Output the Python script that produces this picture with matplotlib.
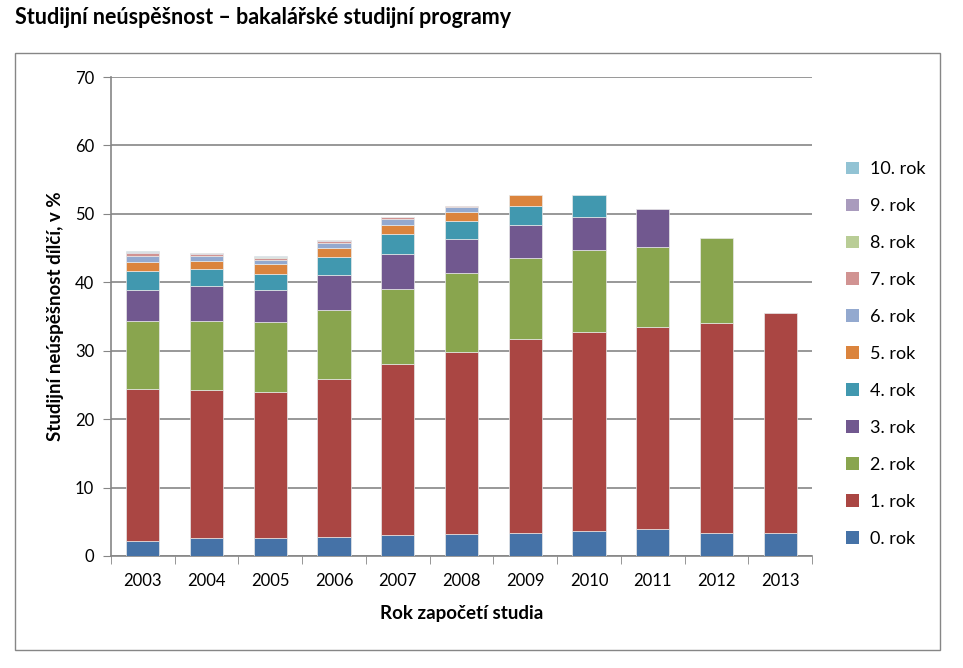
import numpy as np
import matplotlib
matplotlib.use('Agg')
import matplotlib.pyplot as plt
from matplotlib.patches import Rectangle, Patch

plt.rcParams['font.family'] = ['Lato', 'DejaVu Sans']

years = ['2003', '2004', '2005', '2006', '2007', '2008', '2009', '2010', '2011', '2012', '2013']
labels = ['0. rok', '1. rok', '2. rok', '3. rok', '4. rok', '5. rok',
          '6. rok', '7. rok', '8. rok', '9. rok', '10. rok']

# podil neuspesnych studentu v jednotlivych rocich studia, v %
rok0 = [2.2, 2.6, 2.7, 2.8, 3.1, 3.2, 3.4, 3.6, 3.9, 3.3, 3.4]
rok1 = [22.2, 21.7, 21.3, 23.1, 25.0, 26.6, 28.3, 29.2, 29.6, 30.8, 32.1]
rok2 = [9.9, 10.0, 10.2, 10.1, 10.9, 11.6, 11.9, 11.9, 11.7, 12.4, 0]
rok3 = [4.6, 5.1, 4.7, 5.0, 5.1, 4.9, 4.8, 4.9, 5.5, 0, 0]
rok4 = [2.7, 2.5, 2.3, 2.7, 2.9, 2.6, 2.8, 3.1, 0, 0, 0]
rok5 = [1.4, 1.2, 1.4, 1.3, 1.4, 1.3, 1.5, 0, 0, 0, 0]
rok6 = [0.9, 0.8, 0.7, 0.7, 0.8, 0.8, 0, 0, 0, 0, 0]
rok7 = [0.35, 0.25, 0.3, 0.35, 0.3, 0.1, 0, 0, 0, 0, 0]
rok8 = [0.1, 0.05, 0.1, 0.05, 0.05, 0, 0, 0, 0, 0, 0]
rok9 = [0.1, 0.05, 0.05, 0.05, 0.05, 0, 0, 0, 0, 0, 0]
rok10 = [0.05, 0.05, 0.05, 0.05, 0, 0, 0, 0, 0, 0, 0]

series = [rok0, rok1, rok2, rok3, rok4, rok5, rok6, rok7, rok8, rok9, rok10]
colors = ['#4572A7', '#AA4643', '#89A54E', '#71588F', '#4198AF', '#DB843D',
          '#93A9CF', '#D19392', '#B9CD96', '#A99BBD', '#92C3D4']

grid_c = '#868686'

fig = plt.figure(figsize=(9.63, 6.68), dpi=100)
ax = fig.add_axes([111/963, 1-556/668, (812-111)/963, (556-77)/668])

x = np.arange(len(years))
bottom = np.zeros(len(years))
for vals, col in zip(series, colors):
    vals = np.array(vals, dtype=float)
    m = vals > 0
    ax.bar(x[m], vals[m], bottom=bottom[m], width=0.52, color=col,
           edgecolor='#e8e8e8', linewidth=0.5, zorder=3)
    bottom += vals

ax.set_xlim(-0.5, len(years) - 0.5)
ax.set_ylim(0, 70)
ax.set_yticks(np.arange(0, 71, 10))
ax.yaxis.grid(True, color=grid_c, linewidth=1.2, zorder=0)
ax.set_axisbelow(True)

ax.set_xticks(x)
ax.set_xticklabels(years)
ax.set_xticks(np.arange(-0.5, len(years)), minor=True)
ax.tick_params(axis='x', which='major', length=0, pad=12, labelsize=12)
ax.tick_params(axis='x', which='minor', length=6, color=grid_c, direction='out')
ax.tick_params(axis='y', length=6, color=grid_c, labelsize=12, pad=6)

for s in ['top', 'right']:
    ax.spines[s].set_visible(False)
for s in ['left', 'bottom']:
    ax.spines[s].set_color(grid_c)
    ax.spines[s].set_linewidth(1.2)

ax.set_xlabel('Rok započetí studia', fontsize=13.5, fontweight='bold', labelpad=12)
ax.set_ylabel('Studijní neúspěšnost dílčí, v %', fontsize=13.5, fontweight='bold', labelpad=8)

handles = [Patch(facecolor=c, edgecolor='none') for c in colors]
leg = fig.legend(handles[::-1], labels[::-1], loc='upper left',
                 bbox_to_anchor=(830/963, 1-145/668), frameon=False,
                 fontsize=13, handlelength=0.7, handleheight=0.7,
                 handletextpad=0.6, labelspacing=1.16)

fig.patches.append(Rectangle((15/963, 1-650/668), 925/963, 597/668,
                             transform=fig.transFigure, fill=False,
                             edgecolor=grid_c, linewidth=1))
fig.text(15/963, 1-17/668, 'Studijní neúspěšnost – bakalářské studijní programy',
         fontsize=15.5, fontweight='bold', ha='left', va='center')

fig.savefig('out.png', dpi=100)
